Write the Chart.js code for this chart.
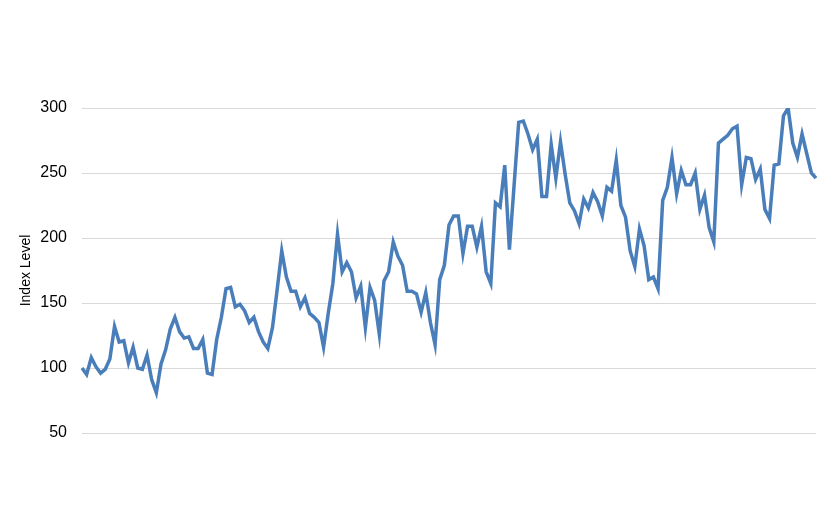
<!DOCTYPE html>
<html>
<head>
<meta charset="utf-8">
<script src="https://cdn.jsdelivr.net/npm/chart.js@4/dist/chart.umd.min.js"></script>
<style>
  html, body { margin: 0; padding: 0; background: #fff; }
  canvas { display: block; }
</style>
</head>
<body>
<canvas id="chart" width="830" height="526"></canvas>
<script>
// index level, one point per period
var indexValues = [
    100, 95, 108, 101, 96, 99, 107, 132, 120, 121,
    104, 116, 100, 99, 110, 91, 81, 103, 114, 130,
    139, 128, 123, 124, 115, 115, 122, 96, 95, 122,
    139, 161, 162, 147, 149, 144, 135, 139, 128, 120,
    115, 131, 160, 190, 170, 159, 159, 147, 154, 142,
    139, 135, 116, 142, 165, 203, 174, 181, 174, 154,
    163, 131, 162, 152, 126, 167, 174, 197, 186, 179,
    159, 159, 157, 143, 158, 135, 118, 168, 179, 210,
    217, 217, 188, 209, 209, 193, 209, 174, 165, 227,
    224, 256, 191, 240, 289, 290, 280, 268, 276, 232,
    232, 272, 246, 274, 249, 227, 221, 211, 230, 223,
    235, 228, 217, 239, 236, 260, 225, 216, 190, 178,
    207, 194, 168, 170, 161, 229, 239, 262, 234, 252,
    241, 241, 250, 222, 233, 208, 197, 273, 276, 279,
    284, 286, 241, 262, 261, 245, 253, 222, 215, 256,
    257, 294, 300, 273, 262, 280, 265, 250, 246
];
var periods = indexValues.map(function (v, i) { return i + 1; });
var yMin = 50, yMax = 300, yStep = 50;

var ctx = document.getElementById('chart').getContext('2d');
new Chart(ctx, {
    type: 'line',
    data: {
        labels: periods,
        datasets: [{
            label: 'Index Level',
            data: indexValues,
            borderColor: '#4a7ebb',
            borderWidth: 3.5,
            pointRadius: 0,
            tension: 0,
            fill: false
        }]
    },
    options: {
        responsive: false,
        animation: false,
        layout: { padding: { left: 18, right: 14, top: 108, bottom: 93 } },
        plugins: { legend: { display: false }, tooltip: { enabled: false } },
        scales: {
            x: { display: false },
            y: {
                min: yMin,
                max: yMax,
                afterFit: function (scale) { scale.width = 64; },
                border: { display: false },
                grid: { color: '#d9d9d9', drawTicks: false, lineWidth: 1 },
                ticks: {
                    stepSize: yStep,
                    padding: 15,
                    color: '#000',
                    font: { family: 'Liberation Sans, Arial', size: 16 }
                },
                title: {
                    display: true,
                    text: 'Index Level',
                    color: '#000',
                    padding: 0,
                    font: { family: 'Liberation Sans, Arial', size: 14 }
                }
            }
        }
    }
});
</script>
</body>
</html>
